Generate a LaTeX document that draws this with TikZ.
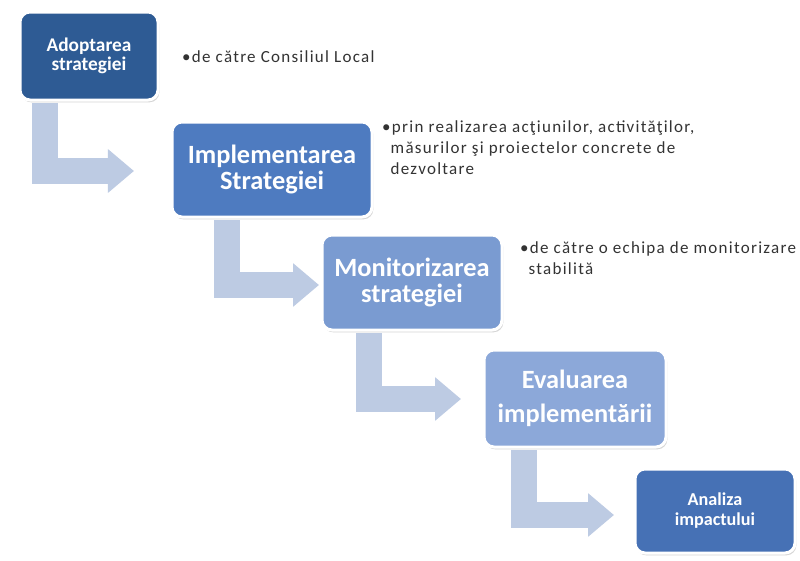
\documentclass[tikz,border=0pt]{standalone}
\usepackage{fontspec}
\setmainfont{Carlito}
\newfontfamily\notefont[LetterSpace=7.5]{Carlito}
\usetikzlibrary{arrows.meta,shadows}
\definecolor{bA}{HTML}{2E5B94}
\definecolor{bB}{HTML}{4E7BC0}
\definecolor{bC}{HTML}{7A9BD1}
\definecolor{bD}{HTML}{8CA8D9}
\definecolor{bE}{HTML}{4671B5}
\definecolor{arr}{HTML}{BDCBE3}
\definecolor{txt}{HTML}{333333}
\tikzset{
  box/.style={rounded corners=0.3cm, draw=white, line width=0.09cm, text=white,
    align=center, font=\bfseries, inner sep=0pt,
    drop shadow={shadow xshift=0.04cm, shadow yshift=-0.07cm, fill=black!35, opacity=0.45}},
  bendarrow/.style={draw=arr, line width=0.78cm, line cap=butt,
    -{Triangle[width=1.26cm, length=0.78cm]}},
  note/.style={text=txt, align=left, inner sep=0pt, font=\notefont\fontsize{14.5}{18}\selectfont}
}
\begin{document}
\begin{tikzpicture}[x=0.03cm, y=-0.03cm]
\useasboundingbox (0,0) rectangle (800,561);
\fill[white] (0,0) rectangle (800,561);

% arrows (behind boxes)
\coordinate (a1s) at (45,103);
\coordinate (a1t) at (134,171);
\coordinate (a2s) at (226.5,220);
\coordinate (a2t) at (319,285);
\coordinate (a3s) at (369,333);
\coordinate (a3t) at (461,399);
\coordinate (a4s) at (523.5,450);
\coordinate (a4t) at (614,515);

\draw[bendarrow] (a1s) |- (a1t);
\draw[bendarrow] (a2s) |- (a2t);
\draw[bendarrow] (a3s) |- (a3t);
\draw[bendarrow] (a4s) |- (a4t);

% boxes
\node[box, fill=bA, minimum width=138*0.03cm, minimum height=88*0.03cm,
  font=\bfseries\fontsize{16.5}{16.5}\selectfont] (b1) at (89,56) {Adoptarea\\strategiei};
\node[box, fill=bB, minimum width=200*0.03cm, minimum height=95*0.03cm,
  font=\bfseries\fontsize{22.5}{23}\selectfont] (b2) at (272,169.5) {Implementarea\\Strategiei};
\node[box, fill=bC, minimum width=180*0.03cm, minimum height=95*0.03cm,
  font=\bfseries\fontsize{22.5}{23}\selectfont] (b3) at (412,282.5) {Monitorizarea\\strategiei};
\node[box, fill=bD, minimum width=182*0.03cm, minimum height=97*0.03cm,
  font=\bfseries\fontsize{22.5}{29}\selectfont] (b4) at (575,398.5) {Evaluarea\\implementării};
\node[box, fill=bE, minimum width=160*0.03cm, minimum height=84*0.03cm,
  font=\bfseries\fontsize{15.5}{17}\selectfont] (b5) at (715,511) {Analiza\\impactului};

% notes
\node[note, anchor=west] (n1) at (182,57) {•de către Consiliul Local};
\node[note, anchor=north west] (n2) at (382,120)
  {•prin realizarea acţiunilor, activităţilor,\\\hphantom{•}măsurilor şi proiectelor concrete de\\\hphantom{•}dezvoltare};
\node[note, anchor=north west] (n3) at (520,241)
  {•de către o echipa de monitorizare\\\hphantom{•}stabilită};
\end{tikzpicture}
\end{document}
